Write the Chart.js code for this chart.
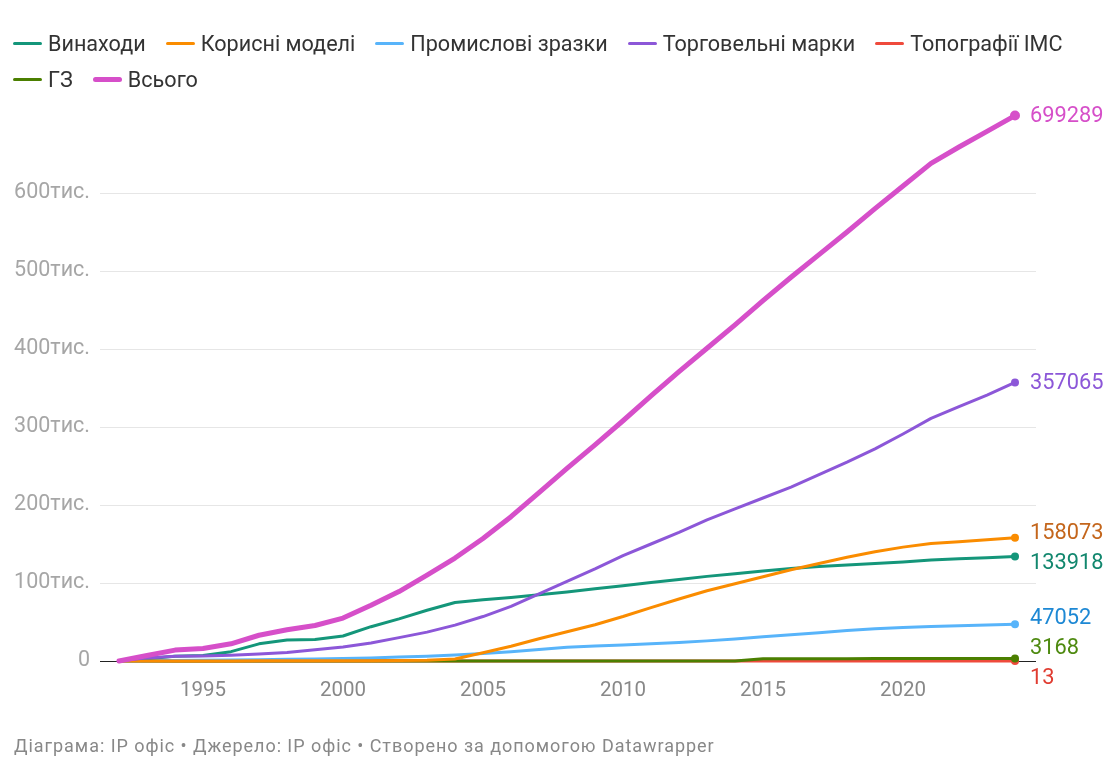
<!DOCTYPE html>
<html lang="uk">
<head>
<meta charset="utf-8">
<title>Заявки на об'єкти ІВ</title>
<script src="https://cdn.jsdelivr.net/npm/chart.js@4.4.0/dist/chart.umd.min.js"></script>
<style>
    html, body { margin: 0; padding: 0; background: #fff; }
    body { width: 1105px; height: 759px; position: relative; overflow: hidden; font-family: Roboto, "Noto Sans", sans-serif; }
    #legend { position: absolute; left: 13px; top: 30px; width: 1085px; display: flex; flex-wrap: wrap; row-gap: 10px; }
    .legend-item { display: flex; align-items: center; margin-right: 20px; height: 26px; font-size: 21.6px; color: #333; }
    .legend-mark { width: 29px; border-radius: 3px; margin-right: 6px; }
    #chart-wrap { position: absolute; left: 0; top: 0; width: 1105px; height: 759px; }
    #footer { position: absolute; left: 14px; top: 735px; font-size: 18px; letter-spacing: 0.95px; color: #888; white-space: nowrap; }
</style>
</head>
<body>
<div id="chart-wrap"><canvas id="chart" width="1105" height="759"></canvas></div>
<div id="legend"></div>
<div id="footer">Діаграма: IP офіс • Джерело: IP офіс • Створено за допомогою Datawrapper</div>

<script>
const years = [1992, 1993, 1994, 1995, 1996, 1997, 1998, 1999, 2000, 2001, 2002, 2003, 2004, 2005, 2006, 2007,
    2008, 2009, 2010, 2011, 2012, 2013, 2014, 2015, 2016, 2017, 2018, 2019, 2020, 2021, 2022, 2023, 2024];

const inventions = [0, 3000, 6000, 7000, 12000, 22000, 27000, 27500, 32000, 44000, 54000, 65000, 75000, 78500, 81500, 85000,
    88500, 92500, 96500, 100500, 104500, 108500, 112000, 115500, 118500, 121000, 123000, 125000, 127000, 129500, 131000, 132500, 133918];
const utilityModels = [0, 0, 50, 100, 150, 200, 250, 300, 350, 400, 500, 1000, 2500, 10500, 19000, 28500,
    37500, 46500, 57000, 68500, 79500, 90000, 99000, 108000, 117000, 125000, 133000, 140000, 146000, 150500, 153000, 155500, 158073];
const designs = [0, 300, 700, 1000, 1300, 1700, 2100, 2600, 3200, 4000, 5000, 6200, 7800, 9600, 12000, 14800,
    17500, 19300, 20600, 22000, 23700, 25800, 28300, 31000, 33700, 36300, 39000, 41200, 42800, 44300, 45200, 46100, 47052];
const trademarks = [0, 4000, 6000, 6500, 7500, 9000, 11000, 14500, 18000, 23000, 30000, 37000, 46000, 57000, 70000, 86000,
    102000, 118000, 135000, 150000, 165000, 181000, 195000, 209000, 223000, 239000, 255000, 272000, 291000, 311000, 326000, 341000, 357065];
const topographies = [0, 0, 0, 0, 0, 0, 0, 0, 0, 0, 0, 0, 1, 2, 3, 4,
    6, 7, 8, 9, 9, 10, 10, 11, 11, 12, 12, 12, 13, 13, 13, 13, 13];
const geoIndications = [0, 0, 0, 0, 0, 0, 0, 0, 0, 0, 0, 0, 0, 0, 0, 0,
    0, 0, 0, 0, 0, 0, 150, 2900, 2950, 3000, 3030, 3060, 3090, 3110, 3130, 3150, 3168];
const total = [0, 7000, 14000, 16000, 22000, 33000, 40000, 45500, 55000, 71500, 89000, 110000, 132000, 157000, 185000, 216000,
    247000, 277000, 308000, 340000, 371000, 401000, 431000, 462000, 492000, 521000, 550000, 580000, 609000, 638000, 659000, 679000, 699289];

const seriesNames = ['Винаходи', 'Корисні моделі', 'Промислові зразки', 'Торговельні марки', 'Топографії IMC', 'ГЗ', 'Всього'];
const seriesValues = [inventions, utilityModels, designs, trademarks, topographies, geoIndications, total];
const lineColors = ['#14967a', '#fa8c00', '#58b4fa', '#8c57d8', '#ef4a3c', '#4b7f00', '#d64fc9'];
const labelColors = ['#12876e', '#c4661c', '#1d88d4', '#8c57d8', '#e03c31', '#4e8a10', '#d64fc9'];
const lineWidths = [3, 3, 3, 3, 3, 3, 5];
const drawOrder = [3, 2, 4, 1, 6, 5, 0];
const xTicks = [1995, 2000, 2005, 2010, 2015, 2020];
const yTicks = [0, 100000, 200000, 300000, 400000, 500000, 600000];

const FONT = 'Roboto, "Noto Sans", sans-serif';

// legend
const legendEl = document.getElementById('legend');
seriesNames.forEach((name, i) => {
    const item = document.createElement('div');
    item.className = 'legend-item';
    const mark = document.createElement('span');
    mark.className = 'legend-mark';
    mark.style.background = lineColors[i];
    mark.style.height = (i === 6 ? 5 : 3) + 'px';
    item.appendChild(mark);
    item.appendChild(document.createTextNode(name));
    legendEl.appendChild(item);
});

// value labels at the end of each line, pushed apart when they collide
const endLabels = {
    id: 'endLabels',
    afterDatasetsDraw(chart) {
        const ctx = chart.ctx;
        const gap = 30;
        let items = chart.data.datasets.map((ds, i) => {
            const pts = chart.getDatasetMeta(i).data;
            const pt = pts[pts.length - 1];
            return { x: pt.x, y: pt.y, ly: pt.y, text: String(ds.data[ds.data.length - 1].y), color: labelColors[i] };
        });
        items.sort((a, b) => a.y - b.y);

        let groups = items.map(it => ({ members: [it] }));
        const place = g => {
            const mean = g.members.reduce((s, m) => s + m.y, 0) / g.members.length;
            const start = mean - gap * (g.members.length - 1) / 2;
            g.members.forEach((m, k) => { m.ly = start + k * gap; });
        };
        groups.forEach(place);
        let merged = true;
        while (merged) {
            merged = false;
            for (let i = 0; i < groups.length - 1; i++) {
                const a = groups[i], b = groups[i + 1];
                const aLast = a.members[a.members.length - 1].ly;
                const bFirst = b.members[0].ly;
                if (bFirst - aLast < gap) {
                    a.members = a.members.concat(b.members);
                    groups.splice(i + 1, 1);
                    place(a);
                    merged = true;
                    break;
                }
            }
        }

        ctx.save();
        ctx.font = '21.8px ' + FONT;
        ctx.textBaseline = 'middle';
        ctx.textAlign = 'left';
        items.forEach(it => {
            ctx.fillStyle = it.color;
            ctx.fillText(it.text, it.x + 15, it.ly + 1);
        });
        ctx.restore();
    }
};

const datasets = seriesNames.map((name, i) => ({
    label: name,
    data: years.map((yr, k) => ({ x: yr, y: seriesValues[i][k] })),
    borderColor: lineColors[i],
    backgroundColor: lineColors[i],
    borderWidth: lineWidths[i],
    borderJoinStyle: 'round',
    borderCapStyle: 'round',
    tension: 0,
    order: drawOrder[i],
    clip: false,
    pointRadius: ctx => ctx.dataIndex === years.length - 1 ? (i === 6 ? 5 : 4) : 0,
    pointBorderWidth: 0,
    pointHoverRadius: 0
}));

new Chart(document.getElementById('chart'), {
    type: 'line',
    data: { datasets },
    options: {
        responsive: false,
        animation: false,
        events: [],
        layout: { padding: { top: 115, right: 69, bottom: 58, left: 0 } },
        plugins: {
            legend: { display: false },
            tooltip: { enabled: false }
        },
        scales: {
            x: {
                type: 'linear',
                min: 1992 - 19 / 28,
                max: 2024 + 21 / 28,
                afterBuildTicks: scale => { scale.ticks = xTicks.map(v => ({ value: v })); },
                afterFit: scale => { scale.height = 40; },
                grid: { display: false, drawTicks: false },
                border: { display: false },
                ticks: {
                    padding: 18,
                    color: '#888',
                    font: { family: FONT, size: 20.5 },
                    callback: v => String(v)
                }
            },
            y: {
                type: 'linear',
                min: 0,
                max: 700000,
                afterBuildTicks: scale => { scale.ticks = yTicks.map(v => ({ value: v })); },
                afterFit: scale => { scale.width = 100; },
                grid: {
                    drawTicks: false,
                    color: ctx => ctx.tick && ctx.tick.value === 0 ? '#222' : '#e6e6e6',
                    lineWidth: 1
                },
                border: { display: false },
                ticks: {
                    padding: 10,
                    color: '#a6a6a6',
                    font: { family: FONT, size: 21.5 },
                    callback: v => v === 0 ? '0' : (v / 1000) + 'тис.'
                }
            }
        }
    },
    plugins: [endLabels]
});
</script>
</body>
</html>
